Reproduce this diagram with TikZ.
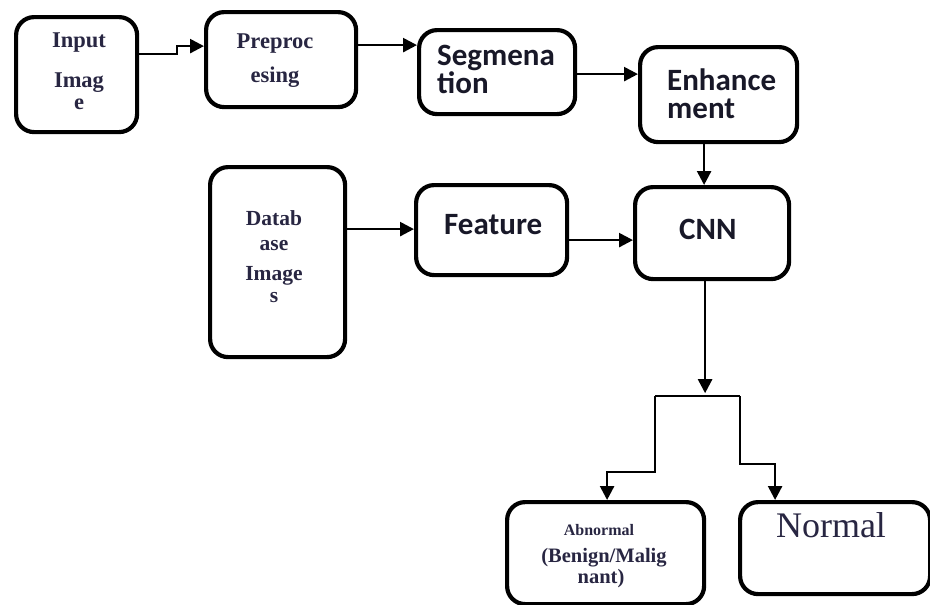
\documentclass[tikz,border=0pt]{standalone}
\usepackage{fontspec}
\setmainfont{Liberation Serif}
\newfontfamily\calib{Carlito}
\usetikzlibrary{arrows.meta}

\definecolor{inkserif}{RGB}{40,38,66}
\definecolor{inksans}{RGB}{24,24,40}

\tikzset{
  stage/.style={draw=black, line width=4.2pt, rounded corners=18pt,
    inner sep=0pt, fill=white},
  link/.style={draw=black, line width=2.5pt},
  arr/.style={link, -{Triangle[length=14pt,width=14pt]}},
  serifsmall/.style={inner sep=0pt, anchor=base, text=inkserif,
    font=\fontsize{22.5}{22.5}\selectfont\bfseries},
  sanslbl/.style={inner sep=0pt, anchor=base west, text=inksans,
    font=\calib\fontsize{31}{31}\selectfont\bfseries},
}

\begin{document}
\begin{tikzpicture}[x=1pt, y=-1pt]
  \useasboundingbox[fill=white] (0,0) rectangle (930,605);

  % process boxes (corner to corner)
  \node[stage, minimum width=121pt, minimum height=115pt, anchor=north west] (inp)  at (14,15)  {};
  \node[stage, minimum width=150pt, minimum height=95pt,  anchor=north west] (pre)  at (204,10)  {};
  \node[stage, minimum width=156pt, minimum height=84pt,  anchor=north west] (seg)  at (417,28)  {};
  \node[stage, minimum width=157pt, minimum height=95pt,  anchor=north west] (enh)  at (638,45)  {};
  \node[stage, minimum width=135pt, minimum height=190pt, anchor=north west] (db)   at (208,165) {};
  \node[stage, minimum width=151pt, minimum height=90pt,  anchor=north west] (feat) at (414,183) {};
  \node[stage, minimum width=154pt, minimum height=92pt,  anchor=north west] (cnn)  at (633,185) {};
  \node[stage, minimum width=197pt, minimum height=102pt, anchor=north west] (abn)  at (505,500) {};
  \node[stage, minimum width=190pt, minimum height=92pt,  anchor=north west] (nor)  at (738,500) {};

  % labels
  \node[serifsmall] (inp1) at (79,47)  {Input};
  \node[serifsmall] (inp2) at (79,87)  {Imag};
  \node[serifsmall] (inp3) at (79,109) {e};

  \node[serifsmall] (pre1) at (275,48) {Preproc};
  \node[serifsmall] (pre2) at (275,82) {esing};

  \node[sanslbl] (seg1) at (437,65) {Segmena};
  \node[sanslbl] (seg2) at (437,93) {tion};

  \node[sanslbl] (enh1) at (667,90)  {Enhance};
  \node[sanslbl] (enh2) at (667,118) {ment};

  \node[sanslbl] (feat1) at (444,234) {Feature};
  \node[sanslbl] (cnn1)  at (679,239) {CNN};

  \node[serifsmall, font=\fontsize{21.5}{21.5}\selectfont\bfseries] (db1) at (274,225) {Datab};
  \node[serifsmall, font=\fontsize{21.5}{21.5}\selectfont\bfseries] (db2) at (274,250) {ase};
  \node[serifsmall, font=\fontsize{21.5}{21.5}\selectfont\bfseries] (db3) at (274,280) {Image};
  \node[serifsmall, font=\fontsize{21.5}{21.5}\selectfont\bfseries] (db4) at (274,302) {s};

  \node[serifsmall, font=\fontsize{16}{16}\selectfont\bfseries] (abn1) at (599,535) {Abnormal};
  \node[serifsmall, font=\fontsize{20.5}{20.5}\selectfont\bfseries] (abn2) at (604,562) {(Benign/Malig};
  \node[serifsmall, font=\fontsize{20.5}{20.5}\selectfont\bfseries] (abn3) at (601,583) {nant)};

  \node[serifsmall, font=\fontsize{36}{36}\selectfont] (nor1) at (831,537) {Normal};

  % connectors
  \coordinate (a0) at ([yshift=20.5pt]inp.east);
  \draw[arr] (a0) -- ++(38,0) -- ++(0,-8) -- ([yshift=13.5pt]pre.west);

  \coordinate (a1) at ([yshift=14.5pt]pre.east);
  \draw[arr] (a1) -- (a1 -| seg.west);

  \coordinate (a2) at ([yshift=-2pt]seg.east);
  \draw[arr] (a2) -- (a2 -| enh.west);

  \coordinate (a3) at ([xshift=-14.5pt]enh.south);
  \draw[arr] (a3) -- (a3 |- cnn.north);

  \coordinate (a4) at ([yshift=33pt]db.east);
  \draw[arr] (a4) -- (a4 -| feat.west);

  \coordinate (a5) at ([yshift=-10pt]feat.east);
  \draw[arr] (a5) -- (a5 -| cnn.west);

  % split towards the two outcomes
  \coordinate (j)  at ([xshift=-7pt, yshift=-115pt]cnn.south);
  \coordinate (jl) at ([xshift=-50pt]j);
  \coordinate (jr) at ([xshift=35pt]j);
  \draw[arr] ([xshift=-7pt]cnn.south) -- ([yshift=3pt]j);
  \draw[link] (jl) -- (jr);
  \draw[arr] (jl) -- ++(0,76) -| ([xshift=1.5pt]abn.north);
  \draw[arr] (jr) -- ++(0,68) -| ([xshift=-60pt]nor.north);
\end{tikzpicture}
\end{document}
